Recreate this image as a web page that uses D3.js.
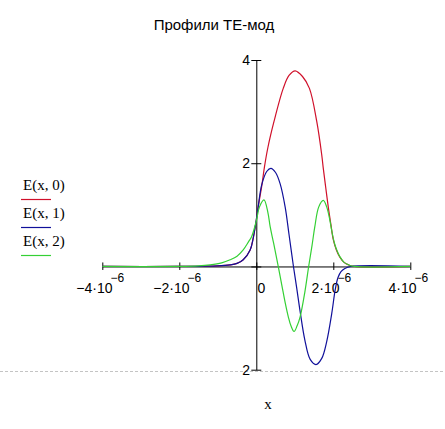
<!DOCTYPE html>
<html><head><meta charset="utf-8">
<script src="https://cdn.jsdelivr.net/npm/d3@7"></script>
<style>body{margin:0;background:#fff}svg{display:block}</style>
</head><body><svg id="c" width="445" height="429"></svg>
<script>
const title = "Профили ТЕ-мод";
const seriesNames = ["E(x, 0)", "E(x, 1)", "E(x, 2)"];
const seriesColors = ["#d0102a", "#10109a", "#34d034"];
const xTicks = [-4, -2, 0, 2, 4];            // in units of 1e-6
const xTickMantissa = ["−4·10", "−2·10", "0", "2·10", "4·10"];
const xTickExp = ["−6", "−6", "", "−6", "−6"];
const yTicks = [4, 2, 0, -2];
const yTickLabels = ["4", "2", "", "2"];
const xAxisLabel = "x";

// x in units of 1e-6
const e0x = [-4, -2, -1.4, -1.0, -0.68, -0.5, -0.34, -0.16, -0.08, 0, 0.05, 0.14, 0.21, 0.3, 0.46, 0.70, 0.85, 1.01, 1.2, 1.38, 1.57, 1.70, 1.74, 1.80, 1.87, 1.94, 2.00, 2.08, 2.17, 2.28, 2.4, 2.55, 4];
const e0y = [0, 0, 0.004, 0.01, 0.03, 0.06, 0.13, 0.32, 0.55, 0.9, 1.16, 1.55, 1.92, 2.30, 2.81, 3.45, 3.70, 3.79, 3.68, 3.45, 2.81, 2.16, 1.90, 1.55, 1.15, 0.80, 0.52, 0.32, 0.18, 0.08, 0.03, 0, 0];
const e1x = [-4, -2, -1.4, -1.0, -0.68, -0.5, -0.34, -0.16, -0.08, 0, 0.05, 0.14, 0.27, 0.38, 0.50, 0.62, 0.75, 0.85, 0.965, 1.05, 1.14, 1.26, 1.40, 1.55, 1.70, 1.83, 1.96, 2.05, 2.12, 2.2, 2.3, 2.45, 4];
const e1y = [0, 0, 0.004, 0.01, 0.03, 0.06, 0.13, 0.32, 0.55, 0.9, 1.16, 1.58, 1.84, 1.90, 1.82, 1.60, 1.15, 0.62, 0, -0.42, -0.88, -1.42, -1.80, -1.90, -1.78, -1.45, -0.91, -0.45, -0.22, -0.10, -0.04, 0, 0];
const e2x = [-4, -2, -1.5, -1.2, -0.9, -0.68, -0.5, -0.34, -0.2, -0.12, 0, 0.08, 0.2, 0.3, 0.36, 0.45, 0.57, 0.66, 0.75, 0.83, 0.90, 0.98, 1.06, 1.14, 1.26, 1.36, 1.45, 1.52, 1.62, 1.74, 1.83, 1.91, 1.97, 2.03, 2.1, 2.17, 2.28, 2.4, 2.55, 4];
const e2y = [0, 0, 0.01, 0.03, 0.07, 0.13, 0.2, 0.32, 0.48, 0.58, 0.88, 1.15, 1.29, 1.05, 0.77, 0.45, 0, -0.35, -0.70, -0.97, -1.15, -1.26, -1.15, -0.97, -0.50, 0, 0.42, 0.77, 1.15, 1.28, 1.15, 0.90, 0.65, 0.45, 0.30, 0.19, 0.08, 0.03, 0, 0];

const series = [[e0x, e0y], [e1x, e1y], [e2x, e2y]];

const svg = d3.select("#c");
const x = d3.scaleLinear().domain([-4, 4]).range([102.3, 410.3]);
const y = d3.scaleLinear().domain([-2, 4]).range([369.7, 60]);

// dashed region line
svg.append("line").attr("x1", 0).attr("x2", 445).attr("y1", 371.5).attr("y2", 371.5)
  .attr("stroke", "#c4c4c4").attr("stroke-dasharray", "3,2");

// title
svg.append("text").attr("x", 214).attr("y", 30).attr("text-anchor", "middle")
  .attr("font-family", "Liberation Sans, Arial, sans-serif").attr("font-size", 15)
  .text(title);

// x axis
const xAxis = svg.append("g").attr("transform", `translate(0,${y(0)})`)
  .call(d3.axisBottom(x).tickValues(xTicks).tickSizeOuter(0).tickSizeInner(7).tickFormat(""));
xAxis.select(".domain").attr("stroke", "#000");
xAxis.selectAll(".tick line").attr("y1", -4).attr("y2", 3.5).attr("stroke", "#000");

// y axis
const yAxis = svg.append("g").attr("transform", `translate(${x(0)},0)`)
  .call(d3.axisLeft(y).tickValues(yTicks).tickSizeOuter(0).tickSizeInner(5).tickFormat(""));
yAxis.select(".domain").attr("stroke", "#000");
yAxis.selectAll(".tick line").attr("x1", -5).attr("x2", 5).attr("stroke", "#000");

// y labels
svg.append("g").selectAll("text").data(yTicks).join("text")
  .attr("x", 250).attr("y", d => y(d) + 5).attr("text-anchor", "end")
  .attr("font-family", "Liberation Sans, Arial, sans-serif").attr("font-size", 14)
  .text((d, i) => yTickLabels[i]);

// x labels
const xl = svg.append("g").selectAll("text").data(xTicks).join("text")
  .attr("x", d => x(d) + (d === 0 ? 5 : -2)).attr("y", 292.5).attr("text-anchor", "middle")
  .attr("font-family", "Liberation Sans, Arial, sans-serif").attr("font-size", 14);
xl.append("tspan").text((d, i) => xTickMantissa[i]);
xl.append("tspan").attr("dy", -10.5).attr("dx", -2).attr("font-size", 12).text((d, i) => xTickExp[i]);

// curves
const line = d3.line().x(d => x(d[0])).y(d => y(d[1])).curve(d3.curveCatmullRom.alpha(0.5));
series.forEach(([xs, ys], i) => {
  svg.append("path").datum(xs.map((v, j) => [v, ys[j]]))
    .attr("fill", "none").attr("stroke", seriesColors[i]).attr("stroke-width", 1.2)
    .attr("d", line);
});

// legend
const lg = svg.append("g");
seriesNames.forEach((n, i) => {
  lg.append("text").attr("x", 23).attr("y", 190 + i * 28)
    .attr("font-family", "Liberation Serif, Times New Roman, serif").attr("font-size", 15).text(n);
  lg.append("line").attr("x1", 21).attr("x2", 51).attr("y1", 199.5 + i * 28).attr("y2", 199.5 + i * 28)
    .attr("stroke", seriesColors[i]).attr("stroke-width", 1.2);
});

// x axis label
svg.append("text").attr("x", 268).attr("y", 408.5).attr("text-anchor", "middle")
  .attr("font-family", "Liberation Serif, Times New Roman, serif").attr("font-size", 15).text(xAxisLabel);
</script></body></html>
